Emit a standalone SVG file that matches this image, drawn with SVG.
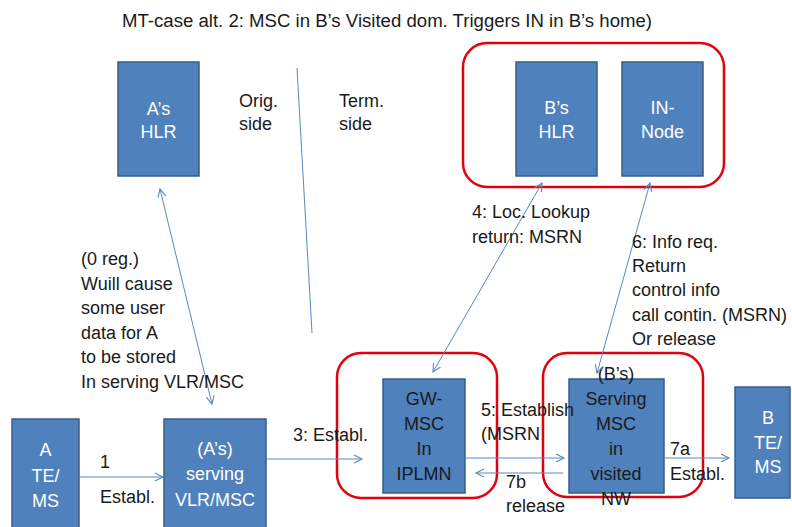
<svg xmlns="http://www.w3.org/2000/svg" width="792" height="527" viewBox="0 0 792 527">
  <style>
    .box { fill: #4F81BD; stroke: #385D8A; stroke-width: 1.5; }
    .grp { fill: none; stroke: #E3000F; stroke-width: 2.5; }
    .lbl { font-family: "Liberation Sans", Arial, sans-serif; font-size: 18px; fill: #1a1a1a; }
    .wt { font-family: "Liberation Sans", Arial, sans-serif; font-size: 18px; fill: #ffffff; text-anchor: middle; }
    .dk { font-family: "Liberation Sans", Arial, sans-serif; font-size: 18px; fill: #1a1a1a; text-anchor: middle; }
    .con { fill: none; stroke: #5A87C2; stroke-width: 1; }
  </style>
  <defs>
    <marker id="arr" markerUnits="userSpaceOnUse" markerWidth="12" markerHeight="12" refX="9" refY="5" orient="auto-start-reverse" viewBox="0 0 12 10">
      <path d="M1,1 L9,5 L1,9" fill="none" stroke="#5A87C2" stroke-width="1.1"/>
    </marker>
  </defs>

  <rect width="792" height="527" fill="#ffffff"/>

  <!-- heading -->
  <text class="lbl" x="122" y="27" textLength="530" lengthAdjust="spacingAndGlyphs">MT-case alt. 2: MSC in B’s Visited dom. Triggers IN in B’s home)</text>

  <!-- grouping frames -->
  <g id="frames">
    <rect class="grp" x="463" y="43" width="261" height="144" rx="24"/>
    <rect class="grp" x="337" y="353" width="160" height="145" rx="24"/>
    <rect class="grp" x="543" y="353" width="160" height="144" rx="24"/>
  </g>

  <!-- side labels -->
  <g id="sides">
    <text class="lbl" x="239" y="107">Orig.</text>
    <text class="lbl" x="239" y="130">side</text>
    <text class="lbl" x="339" y="107">Term.</text>
    <text class="lbl" x="339" y="130">side</text>
  </g>

  <!-- nodes -->
  <g id="a-hlr">
    <rect class="box" x="118" y="62" width="81" height="114"/>
    <text class="wt" x="158.5" y="115">A’s</text>
    <text class="wt" x="158.5" y="138">HLR</text>
  </g>
  <g id="b-hlr">
    <rect class="box" x="516" y="62" width="81" height="114"/>
    <text class="wt" x="556.5" y="114">B’s</text>
    <text class="wt" x="556.5" y="138">HLR</text>
  </g>
  <g id="in-node">
    <rect class="box" x="622" y="62" width="81" height="114"/>
    <text class="wt" x="662.5" y="114">IN-</text>
    <text class="wt" x="662.5" y="138">Node</text>
  </g>
  <g id="a-ms">
    <rect class="box" x="12" y="419" width="67" height="115"/>
    <text class="wt" x="45.5" y="456">A</text>
    <text class="wt" x="45.5" y="482">TE/</text>
    <text class="wt" x="45.5" y="507">MS</text>
  </g>
  <g id="a-vlr">
    <rect class="box" x="164" y="419" width="102" height="115"/>
    <text class="wt" x="215" y="455">(A’s)</text>
    <text class="wt" x="215" y="480">serving</text>
    <text class="wt" x="215" y="506">VLR/MSC</text>
  </g>
  <g id="gw-msc">
    <rect class="box" x="383" y="379" width="82" height="114"/>
    <text class="dk" x="424" y="405">GW-</text>
    <text class="dk" x="424" y="430">MSC</text>
    <text class="dk" x="424" y="455">In</text>
    <text class="dk" x="424" y="480">IPLMN</text>
  </g>
  <g id="b-msc">
    <rect class="box" x="569" y="379" width="95" height="114"/>
    <text class="dk" x="616" y="380">(B’s)</text>
    <text class="dk" x="616" y="405">Serving</text>
    <text class="dk" x="616" y="430">MSC</text>
    <text class="dk" x="616" y="455">in</text>
    <text class="dk" x="616" y="480">visited</text>
    <text class="dk" x="616" y="505">NW</text>
  </g>
  <g id="b-ms">
    <rect class="box" x="735" y="387" width="55" height="111"/>
    <text class="wt" x="768" y="424">B</text>
    <text class="wt" x="768" y="449">TE/</text>
    <text class="wt" x="768" y="473">MS</text>
  </g>

  <!-- connectors -->
  <g id="connectors">
    <line class="con" x1="297" y1="68" x2="312" y2="333"/>
    <line class="con" x1="160" y1="189" x2="212" y2="404" marker-start="url(#arr)" marker-end="url(#arr)"/>
    <line class="con" x1="542" y1="183" x2="433" y2="372" marker-start="url(#arr)" marker-end="url(#arr)"/>
    <line class="con" x1="650" y1="183" x2="597" y2="373" marker-start="url(#arr)" marker-end="url(#arr)"/>
    <line class="con" x1="79" y1="477" x2="163" y2="477" marker-end="url(#arr)"/>
    <line class="con" x1="266" y1="459" x2="362" y2="459" marker-end="url(#arr)"/>
    <line class="con" x1="465" y1="458" x2="564" y2="458" marker-end="url(#arr)"/>
    <line class="con" x1="563" y1="473" x2="476" y2="473" marker-end="url(#arr)"/>
    <line class="con" x1="664" y1="458" x2="729" y2="458" marker-end="url(#arr)"/>
  </g>

  <!-- connector labels -->
  <g id="labels">
    <text class="lbl" x="81" y="265">(0 reg.)</text>
    <text class="lbl" x="81" y="289.5">Wuill cause</text>
    <text class="lbl" x="81" y="314">some user</text>
    <text class="lbl" x="81" y="338.5">data for A</text>
    <text class="lbl" x="81" y="363">to be stored</text>
    <text class="lbl" x="81" y="387.5">In serving VLR/MSC</text>

    <text class="lbl" x="472" y="218">4: Loc. Lookup</text>
    <text class="lbl" x="472" y="243">return: MSRN</text>

    <text class="lbl" x="632" y="248">6: Info req.</text>
    <text class="lbl" x="632" y="272">Return</text>
    <text class="lbl" x="632" y="296">control info</text>
    <text class="lbl" x="632" y="321">call contin. (MSRN)</text>
    <text class="lbl" x="632" y="345">Or release</text>

    <text class="lbl" x="100" y="468">1</text>
    <text class="lbl" x="100" y="503">Establ.</text>
    <text class="lbl" x="293" y="441">3: Establ.</text>
    <text class="lbl" x="481" y="416">5: Establish</text>
    <text class="lbl" x="481" y="440">(MSRN</text>
    <text class="lbl" x="506" y="488">7b</text>
    <text class="lbl" x="506" y="512">release</text>
    <text class="lbl" x="670" y="455">7a</text>
    <text class="lbl" x="670" y="480">Establ.</text>
  </g>
</svg>
